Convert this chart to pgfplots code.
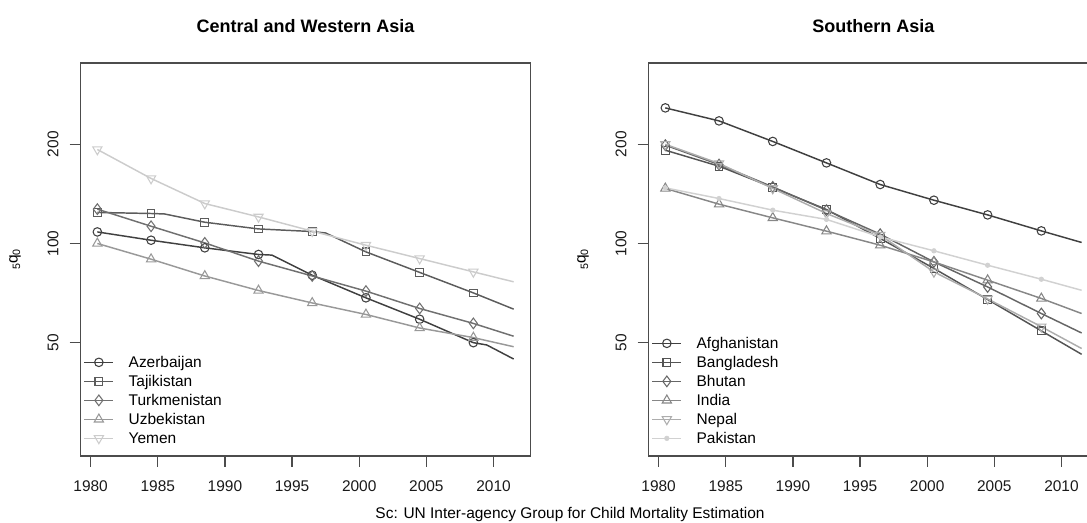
\documentclass[border=0pt]{standalone}
\usepackage{fontspec}
\setmainfont{Liberation Sans}
\usepackage{pgfplots}
\pgfplotsset{compat=1.18}
\definecolor{g1}{gray}{0.25}
\definecolor{g2}{gray}{0.36}
\definecolor{g3}{gray}{0.44}
\definecolor{g4}{gray}{0.60}
\definecolor{g5}{gray}{0.80}
\definecolor{h1}{gray}{0.25}
\definecolor{h2}{gray}{0.33}
\definecolor{h3}{gray}{0.40}
\definecolor{h4}{gray}{0.53}
\definecolor{h5}{gray}{0.68}
\definecolor{h6}{gray}{0.82}
\definecolor{axc}{gray}{0.30}
\pgfplotsset{
 mkO/.style={mark=o, mark size=3.2pt, mark options={solid, line width=0.8pt}},
 mkS/.style={mark=square, mark size=2.9pt, mark options={solid, line width=0.8pt}},
 mkD/.style={mark=diamond, mark size=4pt, mark options={solid, line width=0.8pt}},
 mkT/.style={mark=triangle, mark size=4pt, mark options={solid, line width=0.8pt}},
 mkV/.style={mark=triangle, mark size=4pt, mark options={solid, line width=0.8pt, rotate=180}},
 mkP/.style={mark=*, mark size=1.7pt, mark options={solid, line width=0.5pt}},
 every axis plot/.append style={line width=1.1pt},
 legend image code/.code={\draw[#1, mark indices={2}] plot coordinates {(0pt,0pt) (10.875pt,0pt) (21.75pt,0pt)};},
}
\begin{document}
\begin{tikzpicture}
\begin{axis}[at={(60.525pt,50.25pt)}, anchor=south west, title={Central and Western Asia},
   scale only axis, width=337.2pt, height=294.75pt,
   xmin=1979.26, xmax=2012.74, ymode=log, ymin=22.65, ymax=353,
   xtick={1980,1985,1990,1995,2000,2005,2010},
   xticklabels={1980,1985,1990,1995,2000,2005,2010},
   ytick={50,100,200}, yticklabels={50,100,200}, yminorticks=false,
   tick align=outside, major tick length=8.25pt, xtick pos=bottom, ytick pos=left,
   axis line style={draw=axc, line width=0.9pt},
   tick style={draw=axc, line width=0.9pt},
   tick label style={font=\fontsize{11.6}{13}\selectfont, text=black!90, inner sep=0pt},
   xticklabel style={anchor=north}, xticklabel shift=9.75pt,
   yticklabel style={rotate=90, anchor=south}, yticklabel shift=8.15pt,
   ylabel={\raisebox{-0.3ex}{\fontsize{8}{9}\selectfont 5}q\raisebox{-0.3ex}{\fontsize{8}{9}\selectfont 0}},
   ylabel style={at={(ticklabel cs:0.5)}, anchor=near ticklabel, inner sep=0pt, font=\fontsize{11.6}{13}\selectfont},
   ylabel shift=19.9pt,
   title style={font=\fontsize{13.5}{16}\selectfont\bfseries, at={(0.5,1)}, anchor=base, yshift=17.1pt},
   legend style={draw=none, fill=none, at={(0,0)}, anchor=south west,
     xshift=2pt, yshift=5.9pt, inner sep=0pt, column sep=10.95pt, row sep=0pt,
     font=\fontsize{11.6}{13}\selectfont,
     nodes={inner sep=0pt, text height=11pt, text depth=3.25pt}},
   legend cell align=left]
\addplot[g1, mkO, mark indices={1,2,3,4,6,7,8,9}] coordinates {(1980.5,108.4)(1984.5,102.3)(1988.5,97.0)(1992.5,92.6)(1993.5,92.2)(1996.5,80.1)(2000.5,68.4)(2004.5,58.9)(2008.5,50.0)(2009.5,49.2)(2011.5,44.6)};
\addlegendentry{Azerbaijan}
\addplot[g2, mkS, mark indices={1,2,4,5,6,8,9,10}] coordinates {(1980.5,124.2)(1984.5,123.3)(1985.5,122.9)(1988.5,116.0)(1992.5,110.7)(1996.5,108.7)(1997.5,107.6)(2000.5,94.3)(2004.5,81.7)(2008.5,70.8)(2011.5,63.2)};
\addlegendentry{Tajikistan}
\addplot[g3, mkD, mark indices={1,2,3,4,5,6,7,8}] coordinates {(1980.5,127.1)(1984.5,112.8)(1988.5,100.4)(1992.5,88.4)(1996.5,79.7)(2000.5,71.7)(2004.5,63.5)(2008.5,57.2)(2011.5,52.3)};
\addlegendentry{Turkmenistan}
\addplot[g4, mkT, mark indices={1,2,3,4,5,6,7,8}] coordinates {(1980.5,100.0)(1984.5,89.6)(1988.5,79.7)(1992.5,72.0)(1996.5,66.0)(2000.5,60.9)(2004.5,55.4)(2008.5,51.8)(2011.5,48.6)};
\addlegendentry{Uzbekistan}
\addplot[g5, mkV, mark indices={1,2,3,4,5,6,7,8}] coordinates {(1980.5,192.9)(1984.5,157.5)(1988.5,132.2)(1992.5,120.4)(1996.5,109.0)(2000.5,98.8)(2004.5,90.0)(2008.5,82.0)(2011.5,76.5)};
\addlegendentry{Yemen}
\end{axis}
\begin{axis}[at={(486.5pt,50.25pt)}, anchor=south west, title={Southern Asia},
   scale only axis, width=337.2pt, height=294.75pt,
   xmin=1979.26, xmax=2012.74, ymode=log, ymin=22.65, ymax=353,
   xtick={1980,1985,1990,1995,2000,2005,2010},
   xticklabels={1980,1985,1990,1995,2000,2005,2010},
   ytick={50,100,200}, yticklabels={50,100,200}, yminorticks=false,
   tick align=outside, major tick length=8.25pt, xtick pos=bottom, ytick pos=left,
   axis line style={draw=axc, line width=0.9pt},
   tick style={draw=axc, line width=0.9pt},
   tick label style={font=\fontsize{11.6}{13}\selectfont, text=black!90, inner sep=0pt},
   xticklabel style={anchor=north}, xticklabel shift=9.75pt,
   yticklabel style={rotate=90, anchor=south}, yticklabel shift=8.15pt,
   ylabel={\raisebox{-0.3ex}{\fontsize{8}{9}\selectfont 5}q\raisebox{-0.3ex}{\fontsize{8}{9}\selectfont 0}},
   ylabel style={at={(ticklabel cs:0.5)}, anchor=near ticklabel, inner sep=0pt, font=\fontsize{11.6}{13}\selectfont},
   ylabel shift=19.9pt,
   title style={font=\fontsize{13.5}{16}\selectfont\bfseries, at={(0.5,1)}, anchor=base, yshift=17.1pt},
   legend style={draw=none, fill=none, at={(0,0)}, anchor=south west,
     xshift=2pt, yshift=5.9pt, inner sep=0pt, column sep=10.95pt, row sep=0pt,
     font=\fontsize{11.6}{13}\selectfont,
     nodes={inner sep=0pt, text height=11pt, text depth=3.25pt}},
   legend cell align=left]
\addplot[h1, mkO, mark indices={1,2,3,4,5,6,7,8}] coordinates {(1980.5,257.9)(1984.5,235.5)(1988.5,204.0)(1992.5,175.6)(1996.5,151.0)(2000.5,135.3)(2004.5,122.1)(2008.5,109.2)(2011.5,100.7)};
\addlegendentry{Afghanistan}
\addplot[h2, mkS, mark indices={1,2,3,4,5,6,7,8}] coordinates {(1980.5,191.9)(1984.5,171.6)(1988.5,147.9)(1992.5,126.8)(1996.5,103.6)(2000.5,84.0)(2004.5,67.6)(2008.5,54.3)(2011.5,46.1)};
\addlegendentry{Bangladesh}
\addplot[h3, mkD, mark indices={1,2,3,4,5,6,7,8}] coordinates {(1980.5,198.8)(1984.5,173.6)(1988.5,148.5)(1992.5,126.2)(1996.5,106.7)(2000.5,87.9)(2004.5,73.8)(2008.5,61.3)(2011.5,53.5)};
\addlegendentry{Bhutan}
\addplot[h4, mkT, mark indices={1,2,3,4,5,6,7,8}] coordinates {(1980.5,146.9)(1984.5,131.6)(1988.5,119.6)(1992.5,109.0)(1996.5,98.8)(2000.5,87.9)(2004.5,77.4)(2008.5,68.1)(2011.5,61.3)};
\addlegendentry{India}
\addplot[h5, mkV, mark indices={1,2,3,4,5,6,7,8}] coordinates {(1980.5,200.0)(1984.5,174.9)(1988.5,146.9)(1992.5,123.3)(1996.5,106.0)(2000.5,82.0)(2004.5,67.9)(2008.5,55.9)(2011.5,48.0)};
\addlegendentry{Nepal}
\addplot[h6, mkP, mark indices={1,2,3,4,5,6,7,8}] coordinates {(1980.5,147.5)(1984.5,136.9)(1988.5,126.2)(1992.5,118.3)(1996.5,104.7)(2000.5,95.0)(2004.5,85.9)(2008.5,77.9)(2011.5,72.1)};
\addlegendentry{Pakistan}
\end{axis}
\node[anchor=base, font=\fontsize{11.6}{13}\selectfont] at (427.5pt,3pt) {Sc: UN Inter-agency Group for Child Mortality Estimation};
\pgfresetboundingbox
\path[use as bounding box] (0pt,0pt) rectangle (815.25pt,392.25pt);
\end{tikzpicture}
\end{document}
